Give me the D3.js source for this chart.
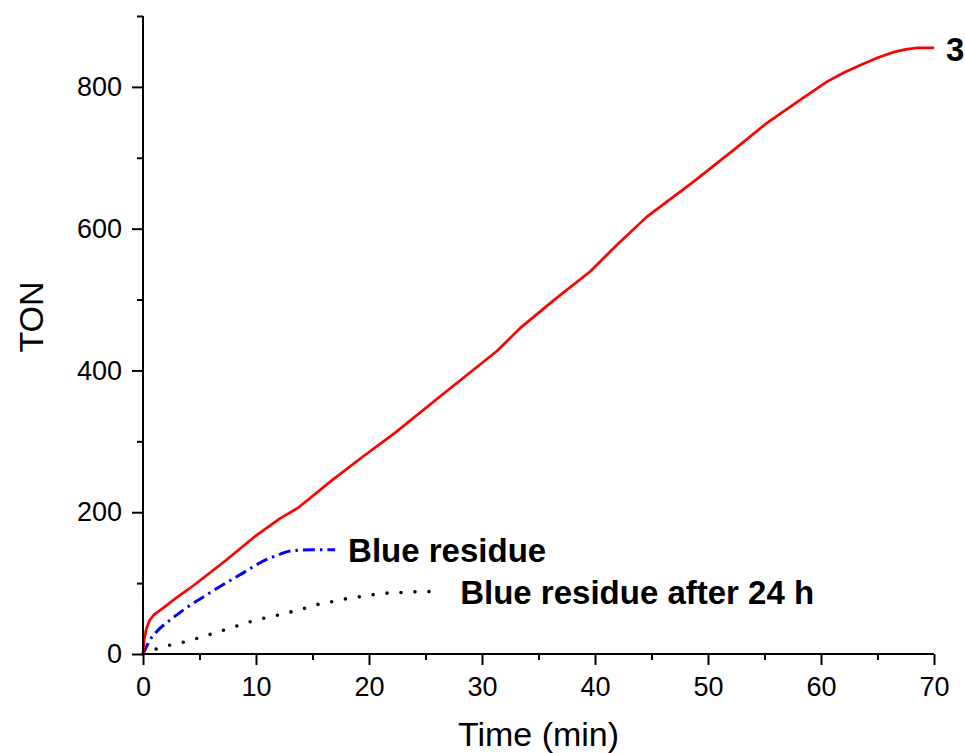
<!DOCTYPE html>
<html>
<head>
<meta charset="utf-8">
<script src="https://cdn.jsdelivr.net/npm/d3@7"></script>
<style>
  html, body { margin: 0; padding: 0; background: #fff; }
  svg { display: block; font-family: "Liberation Sans", Arial, sans-serif; }
</style>
</head>
<body>
<svg id="chart" width="965" height="753"></svg>
<script>
// TON vs time for the fresh catalyst (3), the blue residue and the residue after 24 h
const timeRed = [0, 0.1, 0.3, 0.6, 1.0, 1.8, 3.0, 4.5, 7.4, 10.0, 12.1, 13.7, 16.8, 19.5, 22.3, 26.5, 31.3, 33.4, 36.5, 39.6, 42.0, 44.6, 48.7, 52.5, 55.2, 58.0, 60.5, 62.0, 63.5, 65.0, 66.4, 67.5, 68.5, 70];
const tonRed  = [0, 20, 36, 48, 56, 65, 80, 97, 133, 167, 191, 206, 246, 279, 312, 366, 427, 460, 501, 540, 578, 617, 666, 714, 749, 780, 807, 820, 831, 841, 849, 853, 855, 855];

const timeBlue = [0, 0.3, 0.62, 1.06, 2.4, 3.57, 6.08, 8.6, 10.9, 12.0, 12.7, 13.5, 15.0, 17.0];
const tonBlue  = [0, 10, 20, 29, 48, 62, 88, 112, 133, 140, 144, 146, 147, 147];

const timeBlack = [0, 1.36, 2.5, 3.7, 5.0, 6.2, 7.4, 8.6, 9.8, 11.7, 13.0, 14.2, 15.5, 16.8, 18.0, 19.3, 20.5, 21.7, 23.2, 24.8, 26.3];
const tonBlack  = [0, 8, 13, 17, 23, 29, 35, 41, 47, 54, 59, 64, 70, 74, 78, 81, 84, 86, 87, 88, 88];

const xMajorTicks = [0, 10, 20, 30, 40, 50, 60, 70];
const xMinorTicks = [5, 15, 25, 35, 45, 55, 65];
const yMajorTicks = [0, 200, 400, 600, 800];
const yMinorTicks = [100, 300, 500, 700, 900];

const seriesLabels = ["3", "Blue residue", "Blue residue after 24 h"];

const svg = d3.select("#chart");
const x = d3.scaleLinear().domain([0, 70]).range([143, 934]);
const y = d3.scaleLinear().domain([0, 900]).range([654, 16]);

const zip = (ts, vs) => ts.map((t, i) => [t, vs[i]]);
const line = d3.line().x(d => x(d[0])).y(d => y(d[1]));
const smooth = d3.line().x(d => x(d[0])).y(d => y(d[1])).curve(d3.curveMonotoneX);

// series lines
svg.append("path").datum(zip(timeBlack, tonBlack))
  .attr("d", smooth).attr("fill", "none").attr("stroke", "#000")
  .attr("stroke-width", 3.6).attr("stroke-linecap", "round")
  .attr("stroke-dasharray", "0 14");

svg.append("path").datum(zip(timeBlue, tonBlue))
  .attr("d", smooth).attr("fill", "none").attr("stroke", "#0000ff")
  .attr("stroke-width", 3).attr("stroke-dasharray", "12 5 2.5 5");

svg.append("path").datum(zip(timeRed, tonRed))
  .attr("d", line).attr("fill", "none").attr("stroke", "#ff0000")
  .attr("stroke-width", 2.7).attr("stroke-linejoin", "round");

// axes
const tickFont = 27;
const gx = svg.append("g").attr("transform", `translate(0,${y(0)})`)
  .call(d3.axisBottom(x).tickValues(xMajorTicks).tickFormat(d3.format("d")).tickSize(11).tickPadding(12));
svg.append("g").attr("transform", `translate(0,${y(0)})`)
  .call(d3.axisBottom(x).tickValues(xMinorTicks).tickFormat("").tickSize(6))
  .call(g => g.select(".domain").remove());

const gy = svg.append("g").attr("transform", `translate(${x(0)},0)`)
  .call(d3.axisLeft(y).tickValues(yMajorTicks).tickFormat(d3.format("d")).tickSize(11).tickPadding(10));
svg.append("g").attr("transform", `translate(${x(0)},0)`)
  .call(d3.axisLeft(y).tickValues(yMinorTicks).tickFormat("").tickSize(6))
  .call(g => g.select(".domain").remove());

svg.selectAll(".domain").attr("stroke", "#000").attr("stroke-width", 2);
svg.selectAll(".tick line").attr("stroke", "#000").attr("stroke-width", 2);
svg.selectAll(".tick text").attr("font-size", tickFont)
  .attr("font-family", "'Liberation Sans', Arial, sans-serif").attr("fill", "#000");
gx.select(".domain").attr("d", `M${x(0)},0H${x(70)}`);
gy.select(".domain").attr("d", `M0,${y(0)}V${y(900)}`);

// axis titles
svg.append("text").attr("x", (x(0) + x(70)) / 2).attr("y", 746)
  .attr("text-anchor", "middle").attr("font-size", 34).text("Time (min)");
svg.append("text").attr("transform", `translate(43,317) rotate(-90)`)
  .attr("text-anchor", "middle").attr("font-size", 34).text("TON");

// series labels placed beside line ends
const labelEnds = [
  [timeRed[timeRed.length - 1], tonRed[tonRed.length - 1], 12, 13],
  [timeBlue[timeBlue.length - 1], tonBlue[tonBlue.length - 1], 13, 12],
  [timeBlack[timeBlack.length - 1], tonBlack[tonBlack.length - 1], 20, 12]
];
seriesLabels.forEach((txt, i) => {
  const [t, v, dx, dy] = labelEnds[i];
  svg.append("text").attr("x", x(t) + dx).attr("y", y(v) + dy)
    .attr("font-size", 33).attr("font-weight", "bold").text(txt);
});
</script>
</body>
</html>
